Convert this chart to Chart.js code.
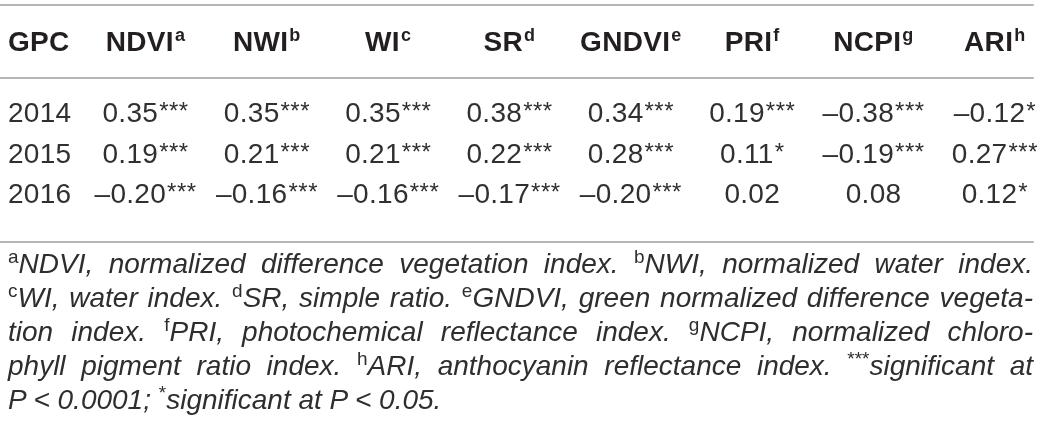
<!DOCTYPE html>
<html>
<head>
<meta charset="utf-8">
<script src="https://cdn.jsdelivr.net/npm/chart.js@4.4.1/dist/chart.umd.min.js"></script>
<style>
  html, body { margin: 0; padding: 0; background: #fff; }
  #wrap { position: relative; width: 1041px; height: 250px; }
  #notes {
    position: absolute; left: 8px; top: 247px; width: 1025px;
    font: italic 28px "Liberation Sans", Arial, sans-serif;
    color: #2e2e2e;
  }
  #notes div { height: 34px; line-height: 34px; text-align: justify; text-align-last: justify; }
  #notes div.last { text-align-last: left; }
  #notes .s { font-style: normal; font-size: 19px; position: relative; top: -10px; }
</style>
</head>
<body>
<div id="wrap"><canvas id="tableChart"></canvas></div>
<div id="notes">
  <div><span class="s">a</span>NDVI, normalized difference vegetation index. <span class="s">b</span>NWI, normalized water index.</div>
  <div><span class="s">c</span>WI, water index. <span class="s">d</span>SR, simple ratio. <span class="s">e</span>GNDVI, green normalized difference vegeta-</div>
  <div>tion index. <span class="s">f</span>PRI, photochemical reflectance index. <span class="s">g</span>NCPI, normalized chloro-</div>
  <div>phyll pigment ratio index. <span class="s">h</span>ARI, anthocyanin reflectance index. <span class="s">***</span>significant at</div>
  <div class="last">P &lt; 0.0001; <span class="s">*</span>significant at P &lt; 0.05.</div>
</div>
<script>
// table content
const columns = ["NDVI", "NWI", "WI", "SR", "GNDVI", "PRI", "NCPI", "ARI"];
const notes = ["a", "b", "c", "d", "e", "f", "g", "h"];
const years = ["2014", "2015", "2016"];

const r2014 = [0.35, 0.35, 0.35, 0.38, 0.34, 0.19, -0.38, -0.12];
const r2015 = [0.19, 0.21, 0.21, 0.22, 0.28, 0.11, -0.19, 0.27];
const r2016 = [-0.20, -0.16, -0.16, -0.17, -0.20, 0.02, 0.08, 0.12];

const sig2014 = ["***", "***", "***", "***", "***", "***", "***", "*"];
const sig2015 = ["***", "***", "***", "***", "***", "*", "***", "***"];
const sig2016 = ["***", "***", "***", "***", "***", "", "", "*"];

const rows = [r2014, r2015, r2016];
const sigs = [sig2014, sig2015, sig2016];

const FONT = '"Liberation Sans", Arial, sans-serif';
const INK = "#231f20";
const BODY = "#303030";

// header row and the three rules, in y-scale units
const headerRow = -0.73;
const rules = [-1.64, 0.16, 4.21];
const ruleEnd = 8.32;

function fmt(v) {
  return (v < 0 ? "\u2013" : "") + Math.abs(v).toFixed(2);
}

function drawRich(ctx, x, y, main, sup, mainFont, supFont, rise, align, spacing) {
  ctx.letterSpacing = spacing || "0px";
  ctx.font = mainFont;
  const w1 = ctx.measureText(main).width;
  ctx.letterSpacing = "0.5px";
  ctx.font = supFont;
  const w2 = sup ? ctx.measureText(sup).width + 1 : 0;
  const x0 = align === "left" ? x : x - (w1 + w2) / 2;
  ctx.letterSpacing = spacing || "0px";
  ctx.font = mainFont;
  ctx.fillText(main, x0, y);
  if (sup) {
    ctx.letterSpacing = "0.5px";
    ctx.font = supFont;
    ctx.fillText(sup, x0 + w1 + 1, y - rise);
  }
  ctx.letterSpacing = "0px";
}

const tablePlugin = {
  id: "tablePlugin",
  afterDatasetsDraw(chart) {
    const { ctx, chartArea, scales } = chart;
    const x = scales.x, y = scales.y;
    ctx.save();

    // horizontal rules
    ctx.strokeStyle = "#9d9d9d";
    ctx.lineWidth = 1.5;
    rules.forEach(r => {
      const py = y.getPixelForValue(r);
      ctx.beginPath();
      ctx.moveTo(chartArea.left, py);
      ctx.lineTo(x.getPixelForValue(ruleEnd), py);
      ctx.stroke();
    });

    ctx.textBaseline = "alphabetic";
    ctx.textAlign = "left";

    // header
    ctx.fillStyle = INK;
    const hy = y.getPixelForValue(headerRow) + 9;
    const hFont = "bold 28px " + FONT;
    const hSup = "bold 18px " + FONT;
    drawRich(ctx, chartArea.left + 8, hy, "GPC", "", hFont, hSup, 0, "left", "0.3px");
    columns.forEach((c, i) => {
      drawRich(ctx, x.getPixelForValue(i + 1), hy, c, notes[i], hFont, hSup, 10, "center", "0.3px");
    });

    // year labels
    ctx.fillStyle = BODY;
    const bFont = "28px " + FONT;
    const aFont = "24px " + FONT;
    years.forEach((yr, r) => {
      drawRich(ctx, chartArea.left + 8, y.getPixelForValue(r + 1) + 10, yr, "", bFont, aFont, 0, "left", "0.3px");
    });

    // cells, at the dataset points
    chart.data.datasets.forEach((ds, di) => {
      const meta = chart.getDatasetMeta(di);
      meta.data.forEach((pt, j) => {
        const d = ds.data[j];
        drawRich(ctx, pt.x, pt.y + 10, fmt(d.v), d.sig, bFont, aFont, 3, "center", "0.3px");
      });
    });

    ctx.restore();
  }
};

new Chart(document.getElementById("tableChart"), {
  type: "scatter",
  data: {
    datasets: years.map((yr, r) => ({
      label: yr,
      data: rows[r].map((v, i) => ({ x: i + 1, y: r + 1, v: v, sig: sigs[r][i] })),
      pointRadius: 0,
      pointHoverRadius: 0
    }))
  },
  options: {
    responsive: true,
    maintainAspectRatio: false,
    animation: false,
    events: [],
    layout: { padding: 0 },
    plugins: { legend: { display: false }, tooltip: { enabled: false } },
    scales: {
      x: { type: "linear", min: -0.2, max: 8.38, display: false },
      y: { type: "linear", reverse: true, min: -1.765, max: 4.407, display: false }
    }
  },
  plugins: [tablePlugin]
});
</script>
</body>
</html>
